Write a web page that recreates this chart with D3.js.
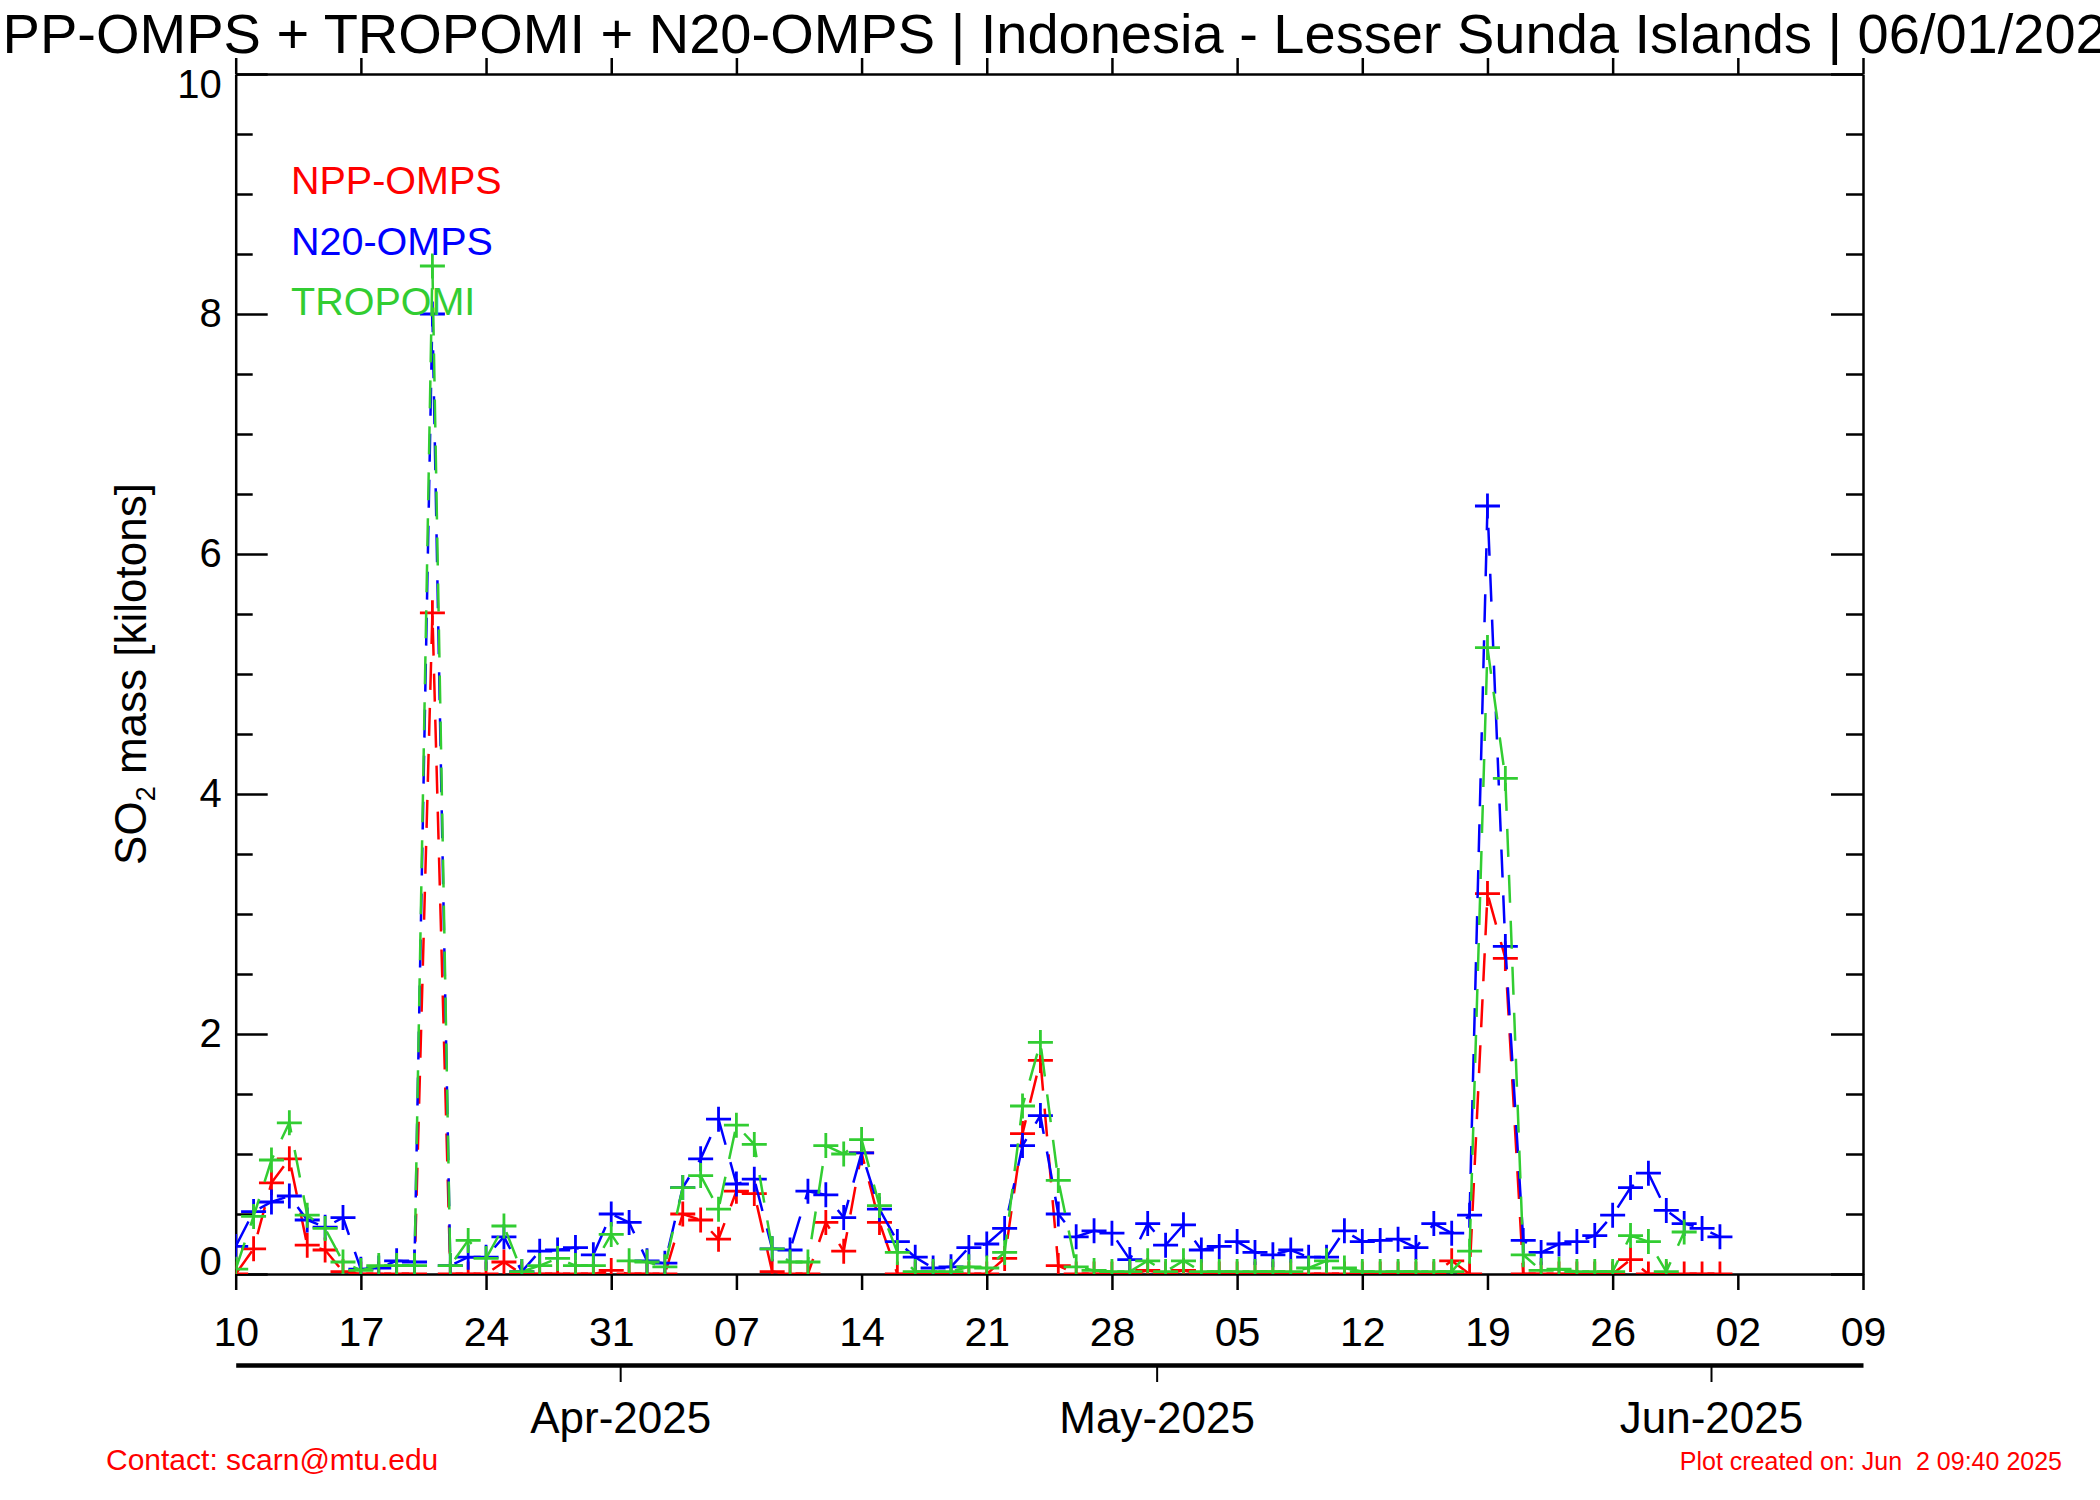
<!DOCTYPE html>
<html><head><meta charset="utf-8">
<script src="https://cdn.jsdelivr.net/npm/d3@7"></script>
<style>
body{margin:0;background:#fff}
text{font-family:"Liberation Sans",Arial,Helvetica,sans-serif}
</style>
</head><body><div id="chart"></div>
<script>
const title = "NPP-OMPS + TROPOMI + N20-OMPS | Indonesia - Lesser Sunda Islands | 06/01/2025";
const yTitle = ["SO", "2", " mass [kilotons]"];
const startDate = "2025-03-10";   // first daily value
const axisStart = "2025-03-10";
const axisEnd = "2025-06-09";

// Daily SO2 mass (kilotons), starting 2025-03-10
const nppOmps = [0, 0.21, 0.76, 0.96, 0.24, 0.20, 0.02, 0, 0, 0,
  0, 5.51, 0, 0, 0, 0.10, 0, 0, 0, 0,
  0, 0.03, 0, 0, 0, 0.50, 0.45, 0.29, 0.69, 0.67,
  0.02, 0, 0, 0.43, 0.19, 1.01, 0.43, 0, 0, 0,
  0, 0, 0, 0.13, 1.17, 1.78, 0.07, 0, 0, 0,
  0, 0.03, 0, 0.03, 0, 0, 0, 0, 0, 0,
  0, 0, 0, 0, 0, 0, 0, 0, 0.11, 0,
  3.17, 2.63, 0, 0, 0, 0, 0, 0, 0.12, 0,
  0, 0, 0, 0];
const n20Omps = [0.23, 0.52, 0.60, 0.65, 0.45, 0.39, 0.47, 0.04, 0.05, 0.11,
  0.10, 8.00, 0.07, 0.14, 0.14, 0.31, 0.02, 0.19, 0.20, 0.22,
  0.16, 0.50, 0.43, 0.11, 0.09, 0.72, 0.96, 1.29, 0.75, 0.79,
  0.21, 0.20, 0.69, 0.66, 0.47, 1.01, 0.54, 0.27, 0.14, 0.05,
  0.06, 0.22, 0.25, 0.38, 1.07, 1.32, 0.50, 0.31, 0.36, 0.34,
  0.12, 0.42, 0.24, 0.41, 0.20, 0.23, 0.27, 0.18, 0.16, 0.20,
  0.14, 0.14, 0.36, 0.27, 0.28, 0.29, 0.22, 0.42, 0.34, 0.49,
  6.40, 2.73, 0.28, 0.18, 0.25, 0.27, 0.32, 0.49, 0.72, 0.84,
  0.53, 0.42, 0.38, 0.31];
const tropomi = [0.04, 0.48, 0.95, 1.26, 0.49, 0.38, 0.10, 0.03, 0.07, 0.07,
  0.07, 8.40, 0.07, 0.28, 0.13, 0.40, 0.02, 0.07, 0.13, 0.07,
  0.07, 0.33, 0.11, 0.10, 0.06, 0.72, 0.82, 0.54, 1.24, 1.08,
  0.21, 0.10, 0.10, 1.07, 1.00, 1.12, 0.57, 0.18, 0.02, 0.02,
  0.02, 0.06, 0.05, 0.18, 1.40, 1.93, 0.78, 0.06, 0.03, 0.02,
  0.02, 0.11, 0.02, 0.11, 0.02, 0.02, 0.02, 0.02, 0.02, 0.02,
  0.05, 0.11, 0.05, 0.02, 0.02, 0.02, 0.02, 0.02, 0.02, 0.19,
  5.22, 4.13, 0.16, 0.03, 0.04, 0.02, 0.02, 0.02, 0.32, 0.27,
  0.02, 0.35];

const seriesNames = ["NPP-OMPS", "N20-OMPS", "TROPOMI"];
const seriesColors = ["#ff0000", "#0000ff", "#32cd32"];
const yMajorTicks = [0, 2, 4, 6, 8, 10];
const yMinorTicks = [0.5, 1, 1.5, 2.5, 3, 3.5, 4.5, 5, 5.5, 6.5, 7, 7.5, 8.5, 9, 9.5];
const monthStarts = ["2025-04-01", "2025-05-01", "2025-06-01"];
const monthLabels = ["Apr-2025", "May-2025", "Jun-2025"];
const contactText = "Contact: scarn@mtu.edu";
const createdText = "Plot created on: Jun  2 09:40 2025";

const W = 2100, H = 1500;
const m = {left: 235.7, right: 1863, top: 74, bottom: 1274};
const parse = d3.utcParse("%Y-%m-%d");
const t0 = parse(startDate);

const svg = d3.select("#chart").append("svg").attr("width", W).attr("height", H)
  .style("background", "#fff");

const x = d3.scaleUtc().domain([parse(axisStart), parse(axisEnd)]).range([m.left, m.right]);
const y = d3.scaleLinear().domain([0, 10]).range([m.bottom, m.top]);

const weeks = d3.utcMonday.range(parse(axisStart), d3.utcDay.offset(parse(axisEnd), 1));

function styleAxis(g, fs) {
  g.attr("font-family", null).attr("font-size", null);
  g.selectAll("path.domain").attr("stroke", "#000").attr("stroke-width", 2.5);
  g.selectAll(".tick line").attr("stroke", "#000").attr("stroke-width", 2.5);
  g.selectAll(".tick text").attr("fill", "#000").style("font-size", fs + "px");
}

// bottom axis
svg.append("g").attr("transform", `translate(0,${m.bottom})`)
  .call(d3.axisBottom(x).tickValues(weeks).tickSize(16).tickSizeOuter(0)
    .tickPadding(27).tickFormat(d3.utcFormat("%d")))
  .call(g => styleAxis(g, 41));
// top axis
svg.append("g").attr("transform", `translate(0,${m.top})`)
  .call(d3.axisTop(x).tickValues(weeks).tickSize(16).tickSizeOuter(0).tickFormat(() => ""))
  .call(g => styleAxis(g, 41));
// left axis
svg.append("g").attr("transform", `translate(${m.left},0)`)
  .call(d3.axisLeft(y).tickValues(yMajorTicks).tickSize(-32).tickSizeOuter(0).tickPadding(14))
  .call(g => styleAxis(g, 40))
  .call(g => g.selectAll(".tick text").attr("dy", d => d === 0 ? "0em" : d === 10 ? "0.58em" : "0.32em"));
svg.append("g").attr("transform", `translate(${m.left},0)`)
  .call(d3.axisLeft(y).tickValues(yMinorTicks).tickSize(-17).tickSizeOuter(0).tickFormat(() => ""))
  .call(g => styleAxis(g, 40)).call(g => g.select(".domain").remove());
// right axis
svg.append("g").attr("transform", `translate(${m.right},0)`)
  .call(d3.axisRight(y).tickValues(yMajorTicks).tickSize(-32).tickSizeOuter(0).tickFormat(() => ""))
  .call(g => styleAxis(g, 40));
svg.append("g").attr("transform", `translate(${m.right},0)`)
  .call(d3.axisRight(y).tickValues(yMinorTicks).tickSize(-17).tickSizeOuter(0).tickFormat(() => ""))
  .call(g => styleAxis(g, 40)).call(g => g.select(".domain").remove());

// month axis
const monthTickDates = monthStarts.map(s => d3.utcHour.offset(parse(s), -12));
svg.append("g").attr("transform", `translate(0,1365)`)
  .call(d3.axisBottom(x).tickValues(monthTickDates).tickSize(17).tickSizeOuter(0)
    .tickPadding(20).tickFormat((d, i) => monthLabels[i]))
  .call(g => styleAxis(g, 44))
  .call(g => g.select(".domain").attr("stroke-width", 4.5))
  .call(g => g.selectAll(".tick line").attr("stroke-width", 2));

// data
svg.append("defs").append("clipPath").attr("id", "plotclip")
  .append("rect").attr("x", m.left).attr("y", m.top)
  .attr("width", m.right - m.left).attr("height", m.bottom - m.top);

const plot = svg.append("g").attr("clip-path", "url(#plotclip)");
const allSeries = [nppOmps, n20Omps, tropomi];
const line = d3.line().x((d, i) => x(d3.utcDay.offset(t0, i))).y(d => y(d));
const arm = 12.5;
allSeries.forEach((vals, si) => {
  const col = seriesColors[si];
  plot.append("path").datum(vals).attr("d", line).attr("fill", "none")
    .attr("stroke", col).attr("stroke-width", 2.5).attr("stroke-dasharray", "28,18");
  plot.append("g").selectAll("path").data(vals).join("path")
    .attr("transform", (d, i) => `translate(${x(d3.utcDay.offset(t0, i))},${y(d)})`)
    .attr("d", `M${-arm},0H${arm}M0,${-arm}V${arm}`)
    .attr("stroke", col).attr("stroke-width", 2.8).attr("fill", "none");
});

// legend
seriesNames.forEach((n, i) => {
  svg.append("text").attr("x", 291).attr("y", 194 + i * 60.5)
    .attr("fill", seriesColors[i]).style("font-size", "39.5px").text(n);
});

// title (clipped at both page edges, as in the original)
svg.append("text").attr("x", 1050).attr("y", 53).attr("text-anchor", "middle")
  .style("font-size", "56px").attr("fill", "#000").text(title);

// y title
const yt = svg.append("text").attr("transform", "translate(146,674) rotate(-90)")
  .attr("text-anchor", "middle").style("font-size", "44px").attr("fill", "#000");
yt.append("tspan").text(yTitle[0]);
yt.append("tspan").attr("dy", 9).style("font-size", "27px").text(yTitle[1]);
yt.append("tspan").attr("dy", -9).text(yTitle[2]);

// footer
svg.append("text").attr("x", 106).attr("y", 1470).attr("fill", "#ff0000")
  .style("font-size", "30px").text(contactText);
svg.append("text").attr("x", 2062).attr("y", 1470).attr("text-anchor", "end")
  .attr("fill", "#ff0000").style("font-size", "25px").style("white-space", "pre").text(createdText);
</script>
</body></html>
